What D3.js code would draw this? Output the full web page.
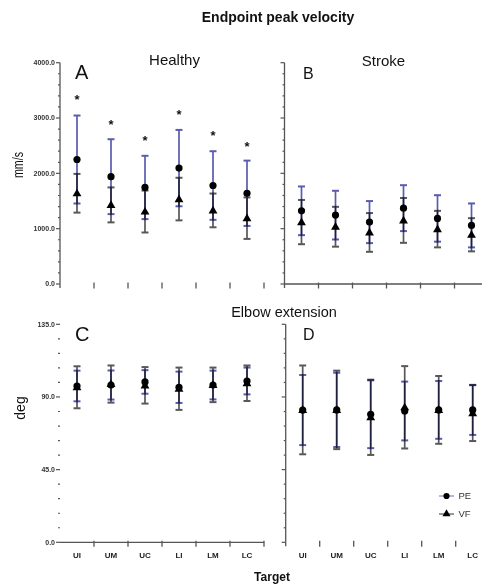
<!DOCTYPE html>
<html>
<head>
<meta charset="utf-8">
<script src="https://cdn.jsdelivr.net/npm/d3@7"></script>
<style>
  body { margin: 0; background: #fff; }
  svg { display: block; }
  text { font-family: "Liberation Sans", Arial, sans-serif; }
</style>
</head>
<body>
<svg id="chart" width="482" height="586"></svg>
<script>
// Endpoint peak velocity / Elbow extension, PE vs VF, mean ± SD per target
const targets = ["UI", "UM", "UC", "LI", "LM", "LC"];

// peak velocity (mm/s), healthy
const velHealthyPE = [2250, 1940, 1745, 2095, 1780, 1640];
const velHealthyPEsd = [795, 677, 572, 690, 620, 590];
const velHealthyVF = [1640, 1430, 1310, 1535, 1330, 1190];
const velHealthyVFsd = [350, 316, 379, 385, 305, 375];
const velHealthyStars = [3390, 2950, 2650, 3120, 2750, 2550];

// peak velocity (mm/s), stroke
const velStrokePE = [1323, 1245, 1119, 1371, 1185, 1059];
const velStrokePEsd = [440, 440, 380, 415, 420, 397];
const velStrokeVF = [1119, 1035, 932, 1149, 992, 890];
const velStrokeVFsd = [400, 360, 350, 405, 330, 300];

// elbow extension (deg), healthy
const elbHealthyPE = [96.8, 97.4, 99.3, 96, 97.4, 99.9];
const elbHealthyPEsd = [9.5, 9, 7.3, 9.7, 8.9, 8.3];
const elbHealthyVF = [96, 98, 97.2, 95.1, 97.5, 98.5];
const elbHealthyVFsd = [13, 11.5, 11.3, 13.1, 10.7, 11];

// elbow extension (deg), stroke
const elbStrokePE = [81.9, 82, 79.3, 81.3, 82, 82];
const elbStrokePEsd = [21.7, 23, 21, 18.2, 17.9, 15.5];
const elbStrokeVF = [82, 82, 77.4, 83.6, 82, 80];
const elbStrokeVFsd = [27.5, 24.3, 23.3, 25.5, 21, 17.3];

const velTicks = [0, 1000, 2000, 3000, 4000];
const elbTicks = [0, 45, 90, 135];

const blue = "#5a5cb0";
const grey = "#585858";
const axisCol = "#555";

const svg = d3.select("#chart");
const fmt = d3.format(".1f");

const panels = [
  { letter: "A", x0: 60, x1: 264, y0: 284, y1: 62.7, max: 4000, ticks: velTicks, minor: 200,
    yLabels: true, yLine: true, xLine: false, xLabels: false, lx: 75, ly: 79, ls: 20,
    pe: velHealthyPE, peSd: velHealthyPEsd, vf: velHealthyVF, vfSd: velHealthyVFsd, stars: velHealthyStars },
  { letter: "B", x0: 284.5, x1: 488.5, y0: 284, y1: 62.7, max: 4000, ticks: velTicks, minor: 200,
    yLabels: false, yLine: true, xLine: true, xLabels: false, lx: 303, ly: 79, ls: 16,
    pe: velStrokePE, peSd: velStrokePEsd, vf: velStrokeVF, vfSd: velStrokeVFsd },
  { letter: "C", x0: 60, x1: 264, y0: 542.3, y1: 324.3, max: 135, ticks: elbTicks, minor: 9,
    yLabels: true, yLine: false, xLine: true, xLabels: true, lx: 75, ly: 341, ls: 20,
    pe: elbHealthyPE, peSd: elbHealthyPEsd, vf: elbHealthyVF, vfSd: elbHealthyVFsd },
  { letter: "D", x0: 285.7, x1: 489.7, y0: 542.3, y1: 324.3, max: 135, ticks: elbTicks, minor: 9,
    yLabels: false, yLine: true, xLine: false, xLabels: true, lx: 303, ly: 340, ls: 16,
    pe: elbStrokePE, peSd: elbStrokePEsd, vf: elbStrokeVF, vfSd: elbStrokeVFsd },
];

panels.forEach((p) => {
  const x = d3.scaleBand().domain(targets).range([p.x0, p.x1]);
  const y = d3.scaleLinear().domain([0, p.max]).range([p.y0, p.y1]);
  const g = svg.append("g");
  const bw = x.bandwidth();
  const cx = (d) => x(d) + bw / 2;

  // axes
  if (p.yLine)
    g.append("line").attr("x1", p.x0).attr("x2", p.x0).attr("y1", p.y1).attr("y2", p.y0 + 4)
      .attr("stroke", axisCol).attr("stroke-width", 1.3);
  if (p.xLine)
    g.append("line").attr("x1", p.x0).attr("x2", p.x1).attr("y1", p.y0).attr("y2", p.y0)
      .attr("stroke", axisCol).attr("stroke-width", 1.3);

  const minorTicks = d3.range(0, p.max + 0.001, p.minor).filter((v) => !p.ticks.includes(v));
  g.selectAll(".mn").data(minorTicks).join("line")
    .attr("x1", p.x0 - 2).attr("x2", p.x0)
    .attr("y1", (d) => y(d)).attr("y2", (d) => y(d))
    .attr("stroke", axisCol).attr("stroke-width", 1.2);
  g.selectAll(".mj").data(p.ticks).join("line")
    .attr("x1", p.x0 - 4).attr("x2", p.x0)
    .attr("y1", (d) => y(d)).attr("y2", (d) => y(d))
    .attr("stroke", axisCol).attr("stroke-width", 1.2);
  if (p.yLabels)
    g.selectAll(".yl").data(p.ticks).join("text")
      .attr("x", p.x0 - 5).attr("y", (d) => y(d)).attr("dy", "0.35em")
      .attr("text-anchor", "end").attr("font-size", 7).attr("font-weight", "bold")
      .attr("fill", "#333").text((d) => fmt(d));

  g.selectAll(".xt").data(targets).join("line")
    .attr("x1", (d) => x(d) + bw).attr("x2", (d) => x(d) + bw)
    .attr("y1", p.y0 - 1.5).attr("y2", p.y0 + 4.5)
    .attr("stroke", axisCol).attr("stroke-width", 1.3);
  if (p.xLabels)
    g.selectAll(".xl").data(targets).join("text")
      .attr("x", cx).attr("y", p.y0 + 15.5).attr("text-anchor", "middle")
      .attr("font-size", 8).attr("font-weight", "bold").attr("fill", "#222").text((d) => d);

  g.append("text").attr("x", p.lx).attr("y", p.ly).attr("font-size", p.ls)
    .attr("fill", "#111").text(p.letter);

  // error bars: PE blue, VF grey (multiplied so overlap turns dark navy)
  const bars = [
    { m: p.pe, s: p.peSd, col: blue, blend: "normal" },
    { m: p.vf, s: p.vfSd, col: grey, blend: "multiply" },
  ];
  bars.forEach((b) => {
    const eb = g.append("g").style("mix-blend-mode", b.blend);
    targets.forEach((t, i) => {
      const hi = y(b.m[i] + b.s[i]), lo = y(b.m[i] - b.s[i]), xc = cx(t);
      eb.append("line").attr("x1", xc).attr("x2", xc).attr("y1", hi).attr("y2", lo)
        .attr("stroke", b.col).attr("stroke-width", 1.7);
      [hi, lo].forEach((yy) =>
        eb.append("line").attr("x1", xc - 3.5).attr("x2", xc + 3.5).attr("y1", yy).attr("y2", yy)
          .attr("stroke", b.col).attr("stroke-width", 2));
    });
  });

  g.selectAll(".pe").data(targets).join("circle")
    .attr("cx", cx).attr("cy", (d, i) => y(p.pe[i])).attr("r", 3.6).attr("fill", "#000");
  g.selectAll(".vf").data(targets).join("path")
    .attr("d", d3.symbol(d3.symbolTriangle, 34))
    .attr("transform", (d, i) => `translate(${cx(d)},${y(p.vf[i]) + 0.5})`)
    .attr("fill", "#000");

  if (p.stars)
    g.selectAll(".st").data(targets).join("text")
      .attr("x", cx).attr("y", (d, i) => y(p.stars[i])).attr("dy", "0.6em")
      .attr("text-anchor", "middle").attr("font-size", 13).attr("font-weight", "bold")
      .attr("fill", "#111").text("*");
});

// titles and axis labels
const txt = (x, y, s, size, weight) =>
  svg.append("text").attr("x", x).attr("y", y).attr("text-anchor", "middle")
    .attr("font-size", size).attr("font-weight", weight || "normal").attr("fill", "#111").text(s);

txt(278, 22, "Endpoint peak velocity", 14, "bold");
txt(174.5, 65, "Healthy", 15);
txt(383.5, 66, "Stroke", 15);
txt(284, 317, "Elbow extension", 14.5);
txt(272, 581, "Target", 12, "bold");

svg.append("text").attr("transform", "translate(23,165) rotate(-90)")
  .attr("text-anchor", "middle").attr("font-size", 14).attr("fill", "#111")
  .attr("textLength", 26).attr("lengthAdjust", "spacingAndGlyphs").text("mm/s");
svg.append("text").attr("transform", "translate(25,408) rotate(-90)")
  .attr("text-anchor", "middle").attr("font-size", 14).attr("fill", "#111").text("deg");

// legend
const legend = [
  { name: "PE", y: 496, line: "#6a6cba", sym: d3.symbolCircle, size: 30 },
  { name: "VF", y: 514, line: "#333", sym: d3.symbolTriangle, size: 28 },
];
legend.forEach((l) => {
  svg.append("line").attr("x1", 439).attr("x2", 454).attr("y1", l.y).attr("y2", l.y)
    .attr("stroke", l.line).attr("stroke-width", 1);
  svg.append("path").attr("d", d3.symbol(l.sym, l.size))
    .attr("transform", `translate(446.5,${l.y})`).attr("fill", "#000");
  svg.append("text").attr("x", 458.5).attr("y", l.y).attr("dy", "0.35em")
    .attr("font-size", 9.5).attr("fill", "#333").text(l.name);
});
</script>
</body>
</html>
